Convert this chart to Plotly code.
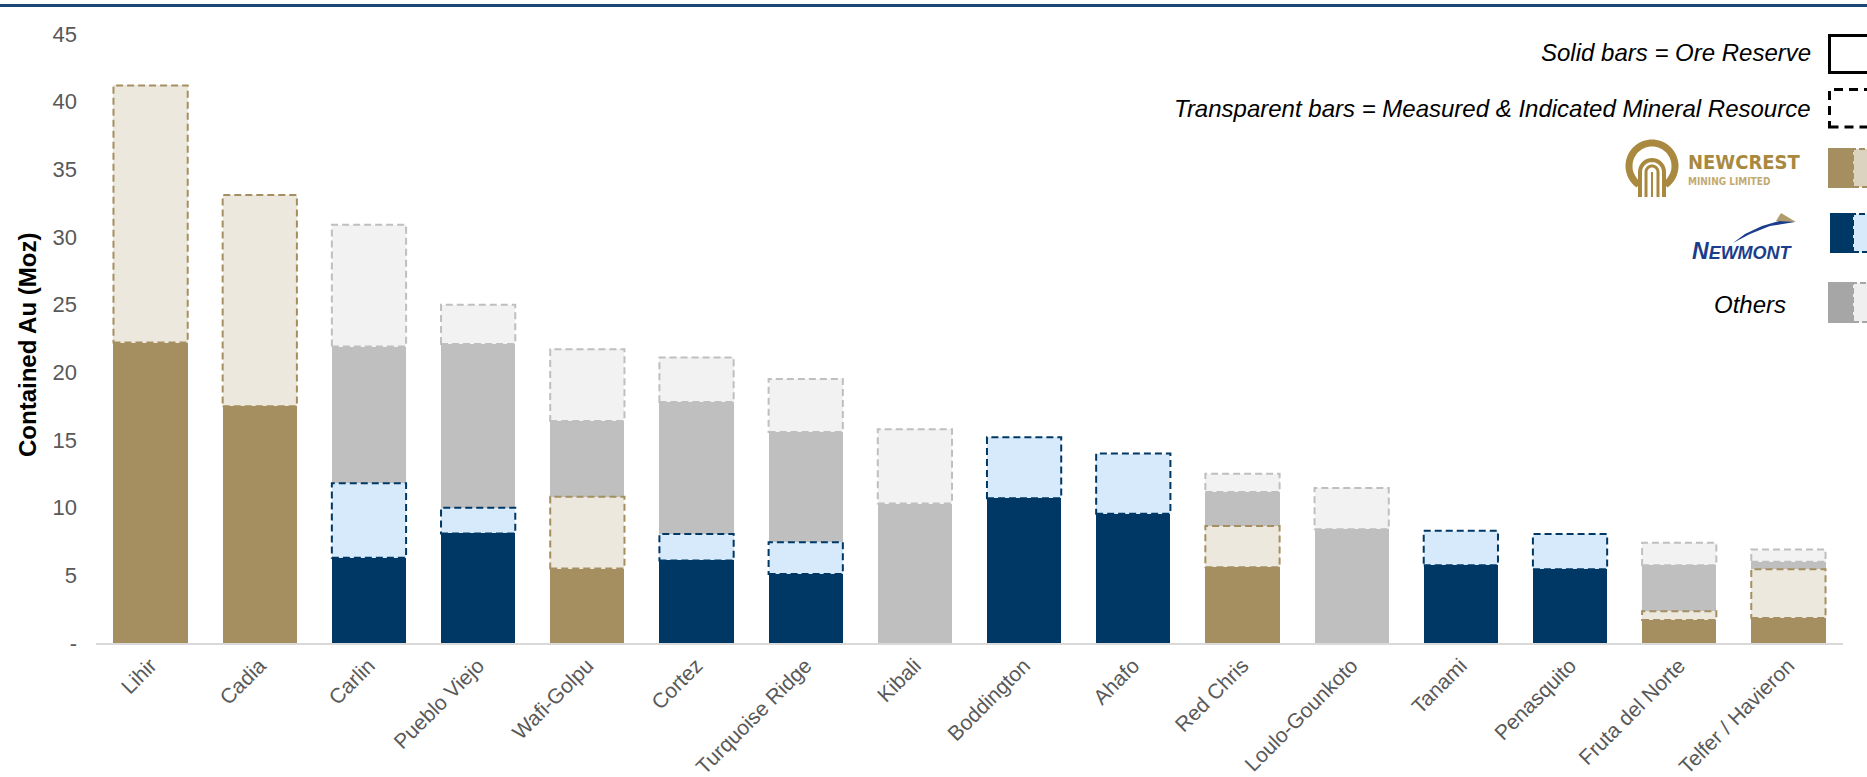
import math
import plotly.graph_objects as go

# ---------------- data ----------------
categories = ["Lihir", "Cadia", "Carlin", "Pueblo Viejo", "Wafi-Golpu", "Cortez",
              "Turquoise Ridge", "Kibali", "Boddington", "Ahafo", "Red Chris",
              "Loulo-Gounkoto", "Tanami", "Penasquito", "Fruta del Norte",
              "Telfer / Havieron"]
# Newcrest
newcrest_reserve = [22.2, 17.5, 0, 0, 5.5, 0, 0, 0, 0, 0, 5.6, 0, 0, 0, 1.7, 1.85]
newcrest_mi      = [19.0, 15.6, 0, 0, 5.3, 0, 0, 0, 0, 0, 3.05, 0, 0, 0, 0.65, 3.6]
# Newmont
newmont_reserve  = [0, 0, 6.3, 8.1, 0, 6.1, 5.1, 0, 10.7, 9.55, 0, 0, 5.75, 5.45, 0, 0]
newmont_mi       = [0, 0, 5.5, 1.9, 0, 1.95, 2.35, 0, 4.5, 4.45, 0, 0, 2.55, 2.6, 0, 0]
# Others
others_reserve   = [0, 0, 10.1, 12.1, 5.6, 9.75, 8.15, 10.3, 0, 0, 2.5, 8.4, 0, 0, 3.4, 0.55]
others_mi        = [0, 0, 9.0, 2.9, 5.3, 3.3, 3.9, 5.5, 0, 0, 1.35, 3.05, 0, 0, 1.65, 0.9]

y_tickvals = [0, 5, 10, 15, 20, 25, 30, 35, 40, 45]
y_ticktext = ["-", "5", "10", "15", "20", "25", "30", "35", "40", "45"]

# ---------------- style ----------------
W, H = 1867, 777
L, R, T, B = 96, 1843, 34, 643
FONT = "Liberation Sans, Arial, sans-serif"
BW = 0.68

TAN, TAN_L = "#a58f60", "#ece8de"
NAVY, BLUE_L = "#003865", "#d6eafc"
GRAY, GRAY_L = "#bfbfbf", "#f2f2f2"
DASH = "7px,4px"


def px(x):
    return (x - L) / (R - L)


def py(y):
    return (B - y) / (B - T)


def pth(points, close=False):
    s = "M " + " L ".join(f"{px(a):.5f},{py(b):.5f}" for a, b in points)
    return s + (" Z" if close else "")


series = [
    (newcrest_reserve, TAN, None),
    (newcrest_mi, TAN_L, TAN),
    (newmont_reserve, NAVY, None),
    (newmont_mi, BLUE_L, NAVY),
    (others_reserve, GRAY, None),
    (others_mi, GRAY_L, GRAY),
]

fig = go.Figure()
xs = list(range(len(categories)))
base = [0.0] * len(categories)
shapes = []
for vals, col, border in series:
    fig.add_trace(go.Bar(
        x=xs, y=vals, width=BW, marker=dict(color=col, line=dict(width=0)),
        showlegend=False, hoverinfo="skip"))
    if border is not None:
        for i, v in enumerate(vals):
            if v > 0:
                shapes.append(dict(
                    type="rect", xref="x", yref="y",
                    x0=i - BW / 2, x1=i + BW / 2, y0=base[i], y1=base[i] + v,
                    line=dict(color=border, width=2, dash=DASH),
                    fillcolor="rgba(0,0,0,0)", layer="above"))
    base = [b + v for b, v in zip(base, vals)]

# top navy rule
shapes.append(dict(type="line", xref="paper", yref="paper",
                   x0=px(0), x1=px(W), y0=py(5.5), y1=py(5.5),
                   line=dict(color="#1c4676", width=3)))


def rect(x0, x1, y0, y1, fill, lc=None, lw=0, dash=None):
    d = dict(type="rect", xref="paper", yref="paper",
             x0=px(x0), x1=px(x1), y0=py(y1), y1=py(y0),
             fillcolor=fill, layer="above")
    if lc:
        d["line"] = dict(color=lc, width=lw, dash=dash) if dash else dict(color=lc, width=lw)
    else:
        d["line"] = dict(width=0)
    return d


# legend swatches
shapes.append(rect(1829.5, 1885, 35.5, 72.5, "white", "black", 3))
shapes.append(rect(1829.5, 1885, 89.5, 127, "white", "black", 3, "9px,6px"))
shapes.append(rect(1828, 1856, 148, 188, TAN))
shapes.append(rect(1853, 1885, 149, 187, "#dbd2bf", TAN, 2, "6px,3px"))
shapes.append(rect(1830, 1856, 213, 253, NAVY))
shapes.append(rect(1853, 1885, 214, 252, BLUE_L, NAVY, 2, "6px,3px"))
shapes.append(rect(1828, 1856, 282, 323, "#a6a6a6"))
shapes.append(rect(1853, 1885, 283, 322, "#efefef", "#a6a6a6", 2, "6px,3px"))

# Newcrest logo symbol (ring + arches)
GOLD = "#a8893f"
cx, cy, r = 1652, 166, 23
arc = [(cx + r * math.cos(math.radians(a)), cy - r * math.sin(math.radians(a)))
       for a in range(-55, 236, 5)]
shapes.append(dict(type="path", xref="paper", yref="paper", path=pth(arc),
                   line=dict(color=GOLD, width=7), layer="above"))
for rr, w in [(12, 4), (6, 3)]:
    pts = [(cx - rr, 197)]
    pts += [(cx + rr * math.cos(math.radians(a)), 172 - rr * math.sin(math.radians(a)))
            for a in range(180, -1, -10)]
    pts += [(cx + rr, 197)]
    shapes.append(dict(type="path", xref="paper", yref="paper", path=pth(pts),
                       line=dict(color=GOLD, width=w), layer="above"))
shapes.append(dict(type="line", xref="paper", yref="paper",
                   x0=px(cx), x1=px(cx), y0=py(197), y1=py(172),
                   line=dict(color=GOLD, width=2)))

# Newmont swoosh
shapes.append(dict(type="path", xref="paper", yref="paper",
                   path=pth([(1733, 243), (1750, 234), (1770, 226), (1795, 222),
                             (1786, 219), (1762, 226), (1745, 234)], True),
                   fillcolor="#1a3d8c", line=dict(width=0), layer="above"))
shapes.append(dict(type="path", xref="paper", yref="paper",
                   path=pth([(1781, 213), (1796, 222), (1776, 221)], True),
                   fillcolor="#b09c6c", line=dict(width=0), layer="above"))

COND = "DejaVu Sans Condensed, Liberation Sans Narrow, Roboto Condensed, Roboto, sans-serif"
annotations = [
    dict(text="Contained Au (Moz)", xref="paper", yref="paper",
         x=px(28), y=py(345), textangle=-90, showarrow=False,
         xanchor="center", yanchor="middle",
         font=dict(family=FONT, size=24, color="black", weight="bold")),
    dict(text="Solid bars = Ore Reserve", xref="paper", yref="paper",
         x=px(1813), y=py(53), xanchor="right", yanchor="middle", showarrow=False,
         font=dict(family=FONT, size=24, color="black", style="italic")),
    dict(text="Transparent bars = Measured & Indicated Mineral Resource",
         xref="paper", yref="paper", x=px(1813), y=py(109), xanchor="right",
         yanchor="middle", showarrow=False,
         font=dict(family=FONT, size=24, color="black", style="italic")),
    dict(text="Others", xref="paper", yref="paper", x=px(1788), y=py(304),
         xanchor="right", yanchor="middle", showarrow=False,
         font=dict(family=FONT, size=24, color="black", style="italic")),
    dict(text="NEWCREST", xref="paper", yref="paper", x=px(1686), y=py(162),
         xanchor="left", yanchor="middle", showarrow=False,
         font=dict(family=COND, size=20, color=GOLD, weight="bold")),
    dict(text="MINING LIMITED", xref="paper", yref="paper", x=px(1686), y=py(181),
         xanchor="left", yanchor="middle", showarrow=False,
         font=dict(family=COND, size=10, color="#c2aa72", weight="bold")),
    dict(text="N<span style='font-size:18px'>EWMONT</span>", xref="paper", yref="paper",
         x=px(1795), y=py(251), xanchor="right", yanchor="middle", showarrow=False,
         font=dict(family=FONT, size=23, color="#1a3d8c", weight="bold", style="italic")),
]

fig.update_layout(
    barmode="stack",
    width=W, height=H,
    autosize=False,
    margin=dict(l=L, r=W - R, t=T, b=H - B, pad=0, autoexpand=False),
    paper_bgcolor="white", plot_bgcolor="white",
    font=dict(family=FONT),
    shapes=shapes, annotations=annotations,
    xaxis=dict(tickmode="array", tickvals=xs, ticktext=categories,
               tickangle=-45, range=[-0.5, len(categories) - 0.5],
               tickfont=dict(family=FONT, size=21, color="#595959"),
               showgrid=False, zeroline=False, showline=True, automargin=False,
               linecolor="#d9d9d9", linewidth=2, ticks=""),
    yaxis=dict(tickmode="array", tickvals=y_tickvals, ticktext=y_ticktext,
               range=[0, 45], tickfont=dict(family=FONT, size=22, color="#595959"),
               showgrid=False, zeroline=False, showline=False, ticks="",
               automargin=False, ticklabelstandoff=18),
)

fig.write_html("out.html", config={"displayModeBar": False},
               post_script="document.body.style.margin='0';document.body.style.overflow='hidden';")
